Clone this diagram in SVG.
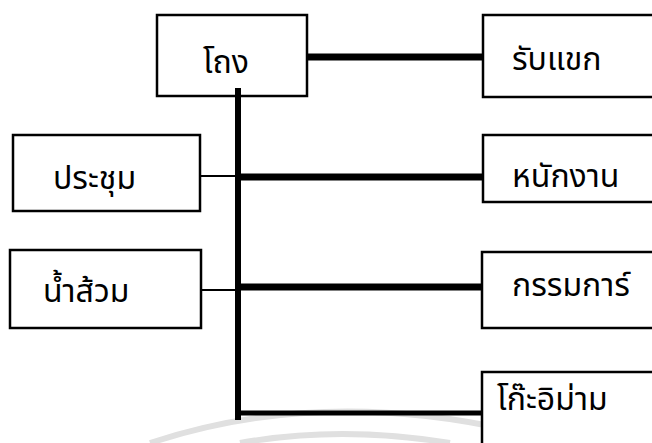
<svg xmlns="http://www.w3.org/2000/svg" width="652" height="443" viewBox="0 0 652 443">
<style>
.box{fill:#fff;stroke:#000;stroke-width:2.5}
.lbl{font-family:"Noto Sans Thai","Noto Sans","DejaVu Sans",sans-serif;font-size:32px;fill:#000}
.thick{stroke:#000;stroke-width:7;fill:none}
.thin{stroke:#000;stroke-width:2;fill:none}
.wm{stroke:#e0e0e0;stroke-width:6;fill:none}
</style>
<rect width="652" height="443" fill="#fff"/>
<g id="watermark">
<path class="wm" d="M150 443 Q340 380 560 443"/>
<path class="wm" d="M240 443 Q340 425 450 443"/>
</g>
<g id="n-thong"><rect class="box" x="157" y="15" width="150" height="81"/><text class="lbl" x="203" y="73">โถง</text></g>
<g id="n-rapkhaek"><rect class="box" x="483" y="15" width="180" height="82"/><text class="lbl" x="512" y="70">รับแขก</text></g>
<g id="n-phanakngan"><rect class="box" x="483" y="135" width="180" height="67"/><text class="lbl" x="512" y="187">หนักงาน</text></g>
<g id="n-kammakan"><rect class="box" x="482" y="252" width="180" height="76"/><text class="lbl" x="512" y="296">กรรมการ์</text></g>
<g id="n-to"><rect class="box" x="482" y="372" width="180" height="80"/><text class="lbl" x="497" y="410">โก๊ะอิม่าม</text></g>
<g id="n-prachum"><rect class="box" x="13" y="135" width="187" height="76"/><text class="lbl" x="53" y="189">ประชุม</text></g>
<g id="n-namsuam"><rect class="box" x="10" y="250" width="191" height="78"/><text class="lbl" x="43" y="302">น้ำส้วม</text></g>
<g id="connectors">
<line class="thick" x1="307" y1="57" x2="483" y2="57"/>
<line class="thick" x1="238" y1="88" x2="238" y2="420" style="stroke-width:6"/>
<line class="thin" x1="200" y1="176" x2="238" y2="176"/>
<line class="thick" x1="238" y1="177" x2="483" y2="177"/>
<line class="thin" x1="201" y1="290" x2="238" y2="290"/>
<line class="thick" x1="238" y1="287" x2="482" y2="287"/>
<line class="thick" x1="235" y1="413" x2="482" y2="413" style="stroke-width:5"/>
</g>
</svg>
